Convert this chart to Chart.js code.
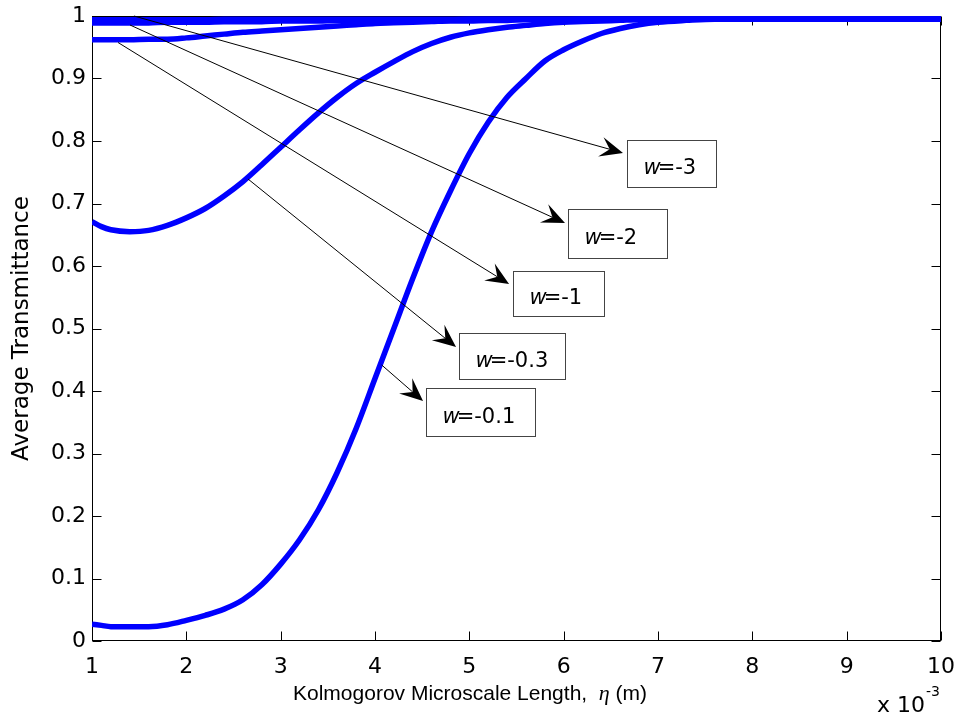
<!DOCTYPE html>
<html><head><meta charset="utf-8">
<script src="https://cdn.jsdelivr.net/npm/chart.js@4.4.1/dist/chart.umd.min.js"></script>
<style>html,body{margin:0;padding:0;background:#fff;}#wrap{width:959px;height:724px;position:relative;}</style>
</head><body><div id="wrap"><canvas id="c" width="959" height="724"></canvas></div>
<script>
// ---- data (eta in units of 1e-3 m) ----
const etaX = [1.0,1.1,1.2,1.4,1.6,1.8,2.0,2.2,2.4,2.6,2.8,3.0,3.2,3.4,3.6,3.8,4.0,4.2,4.4,4.6,4.8,5.0,5.2,5.4,5.6,5.8,6.0,6.2,6.4,6.6,6.8,7.0,7.3,7.6,8.0,9.0,10.0];
const wMinus01 = [0.027,0.025,0.023,0.023,0.023,0.026,0.033,0.041,0.051,0.066,0.090,0.123,0.162,0.210,0.270,0.340,0.420,0.500,0.580,0.655,0.720,0.780,0.830,0.870,0.900,0.928,0.946,0.960,0.972,0.980,0.986,0.990,0.993,0.995,0.995,0.995,0.995];
const wMinus03 = [0.671,0.663,0.658,0.655,0.657,0.665,0.677,0.692,0.712,0.735,0.762,0.790,0.818,0.845,0.870,0.892,0.910,0.927,0.943,0.956,0.966,0.973,0.978,0.982,0.985,0.988,0.990,0.991,0.992,0.993,0.994,0.994,0.995,0.995,0.995,0.995,0.995];
const wMinus1  = [0.962,0.962,0.962,0.962,0.963,0.963,0.965,0.968,0.971,0.974,0.976,0.978,0.980,0.982,0.984,0.986,0.988,0.989,0.990,0.991,0.992,0.992,0.993,0.993,0.994,0.994,0.994,0.995,0.995,0.995,0.995,0.995,0.995,0.995,0.995,0.995,0.995];
const wMinus2  = [0.989,0.989,0.989,0.989,0.989,0.990,0.990,0.990,0.991,0.991,0.991,0.992,0.992,0.992,0.993,0.993,0.993,0.994,0.994,0.994,0.994,0.995,0.995,0.995,0.995,0.995,0.995,0.995,0.995,0.995,0.995,0.995,0.995,0.995,0.995,0.995,0.995];
const wMinus3  = [0.994,0.994,0.994,0.994,0.994,0.994,0.994,0.994,0.995,0.995,0.995,0.995,0.995,0.995,0.995,0.995,0.995,0.995,0.995,0.995,0.995,0.995,0.995,0.995,0.995,0.995,0.995,0.995,0.995,0.995,0.995,0.995,0.995,0.995,0.995,0.995,0.995];
const seriesNames = ['w=-0.1','w=-0.3','w=-1','w=-2','w=-3'];
const xTickLabels = ['1','2','3','4','5','6','7','8','9','10'];
const yTickLabels = ['0','0.1','0.2','0.3','0.4','0.5','0.6','0.7','0.8','0.9','1'];
// annotation labels and anchors (data units): arrow tail, arrow tip, box corners
const annValue = ['-3','-2','-1','-0.3','-0.1'];
const annTailX = [1.445,1.403,1.276,2.654,4.071];
const annTailY = [1.000,0.9856,0.9576,0.7392,0.4416];
const annTipX  = [6.629,6.014,5.421,4.859,4.509];
const annTipY  = [0.7808,0.6688,0.5712,0.4704,0.3840];
const annBoxX0 = [6.672,6.046,5.463,4.891,4.541];
const annBoxX1 = [7.615,7.096,6.428,6.014,5.696];
const annBoxY0 = [0.8016,0.6912,0.5920,0.4928,0.4048];
const annBoxY1 = [0.7264,0.6128,0.5200,0.4192,0.3280];

const FONT = '"DejaVu Sans", Verdana, sans-serif';
const FONT2 = '"Liberation Sans", Arial, Helvetica, sans-serif';
const series = [wMinus01,wMinus03,wMinus1,wMinus2,wMinus3];
const datasets = series.map((s,i)=>({
  label: seriesNames[i],
  data: etaX.map((x,k)=>({x:x,y:s[k]})),
  borderColor:'#0000ff', backgroundColor:'#0000ff',
  borderWidth:5.5, pointRadius:0, fill:false,
  tension:0.4, cubicInterpolationMode:'monotone', clip:0
}));

const matlabAxes = {
  id:'matlabAxes',
  beforeDatasetsDraw(chart){
    const ctx=chart.ctx, a=chart.chartArea, xs=chart.scales.x, ys=chart.scales.y;
    ctx.save();
    ctx.strokeStyle='#000'; ctx.lineWidth=1;
    const L=Math.round(a.left)+0.5, R=Math.round(a.right)-0.5, T=Math.round(a.top)+0.5, B=Math.round(a.bottom)-0.5;
    ctx.strokeRect(L,T,R-L,B-T);
    const tl=9;
    ctx.beginPath();
    xs.ticks.forEach(t=>{const p=Math.round(xs.getPixelForValue(t.value))+0.5;
      ctx.moveTo(p,B);ctx.lineTo(p,B-tl);ctx.moveTo(p,T);ctx.lineTo(p,T+tl);});
    ys.ticks.forEach(t=>{const p=Math.round(ys.getPixelForValue(t.value))+0.5;
      ctx.moveTo(L,p);ctx.lineTo(L+tl,p);ctx.moveTo(R,p);ctx.lineTo(R-tl,p);});
    ctx.stroke();
    ctx.restore();
  },
  afterDraw(chart){
    const ctx=chart.ctx, xs=chart.scales.x, ys=chart.scales.y;
    ctx.save();
    // x-axis title
    const y0=700;
    ctx.fillStyle='#000'; ctx.textBaseline='alphabetic';
    const p1='Kolmogorov Microscale Length,  ', p2='\u03b7', p3=' (m)';
    let x=293;
    ctx.font='21px '+FONT2; ctx.fillText(p1,x,y0); x+=ctx.measureText(p1).width;
    ctx.font='italic 22px "Liberation Serif", "Times New Roman", serif'; ctx.fillText(p2,x,y0); x+=ctx.measureText(p2).width;
    ctx.font='21px '+FONT2; ctx.fillText(p3,x,y0);
    // exponent
    ctx.font='22px '+FONT; ctx.fillText('x 10',877,712);
    ctx.font='14px '+FONT; ctx.fillText('-3',926,696);
    // annotations
    for(let i=0;i<annValue.length;i++){
      const tx=xs.getPixelForValue(annTailX[i]), ty=ys.getPixelForValue(annTailY[i]);
      const hx=xs.getPixelForValue(annTipX[i]), hy=ys.getPixelForValue(annTipY[i]);
      const dx=hx-tx, dy=hy-ty, d=Math.hypot(dx,dy), ux=dx/d, uy=dy/d, nx=-uy, ny=ux;
      const HL=23, HW=10;
      ctx.strokeStyle='#000'; ctx.lineWidth=1;
      ctx.beginPath(); ctx.moveTo(tx,ty); ctx.lineTo(hx-HL*0.6*ux,hy-HL*0.6*uy); ctx.stroke();
      ctx.fillStyle='#000';
      ctx.beginPath();
      ctx.moveTo(hx,hy);
      ctx.lineTo(hx-HL*ux+HW*nx, hy-HL*uy+HW*ny);
      ctx.lineTo(hx-HL*0.6*ux, hy-HL*0.6*uy);
      ctx.lineTo(hx-HL*ux-HW*nx, hy-HL*uy-HW*ny);
      ctx.closePath(); ctx.fill();
      // box
      const bx0=Math.round(xs.getPixelForValue(annBoxX0[i]))+0.5, bx1=Math.round(xs.getPixelForValue(annBoxX1[i]))+0.5;
      const by0=Math.round(ys.getPixelForValue(annBoxY0[i]))+0.5, by1=Math.round(ys.getPixelForValue(annBoxY1[i]))+0.5;
      ctx.fillStyle='#fff'; ctx.fillRect(bx0,by0,bx1-bx0,by1-by0);
      ctx.strokeStyle='#444'; ctx.strokeRect(bx0,by0,bx1-bx0,by1-by0);
      ctx.fillStyle='#000'; ctx.textBaseline='alphabetic';
      const base=(by0+by1)/2+10;
      ctx.font='italic 21px '+FONT; ctx.fillText('w',bx0+16,base);
      const ww=ctx.measureText('w').width;
      ctx.font='21px '+FONT; ctx.fillText('='+annValue[i],bx0+16+ww-3,base);
    }
    ctx.restore();
  }
};

new Chart(document.getElementById('c'),{
  type:'line',
  data:{datasets:datasets},
  options:{
    responsive:false, animation:false, devicePixelRatio:1,
    layout:{padding:{top:16,right:18,left:0,bottom:0}},
    plugins:{legend:{display:false},tooltip:{enabled:false}},
    scales:{
      x:{type:'linear',min:1,max:10,
        grid:{display:false,drawTicks:false}, border:{display:false},
        ticks:{stepSize:1,color:'#000',padding:13,font:{family:FONT,size:22},maxRotation:0,
          callback:(v,i)=>xTickLabels[i]},
        afterFit:(s)=>{s.height=83; s.paddingLeft=0; s.paddingRight=0;}},
      y:{type:'linear',min:0,max:1,
        grid:{display:false,drawTicks:false}, border:{display:false},
        ticks:{stepSize:0.1,color:'#000',padding:6,font:{family:FONT,size:22},
          callback:(v,i)=>yTickLabels[i]},
        title:{display:true,text:'Average Transmittance',color:'#000',font:{family:FONT,size:23},padding:{top:8,bottom:0}},
        afterFit:(s)=>{s.width=92; s.paddingTop=0; s.paddingBottom=0;}}
    }
  },
  plugins:[matlabAxes]
});
</script></body></html>
